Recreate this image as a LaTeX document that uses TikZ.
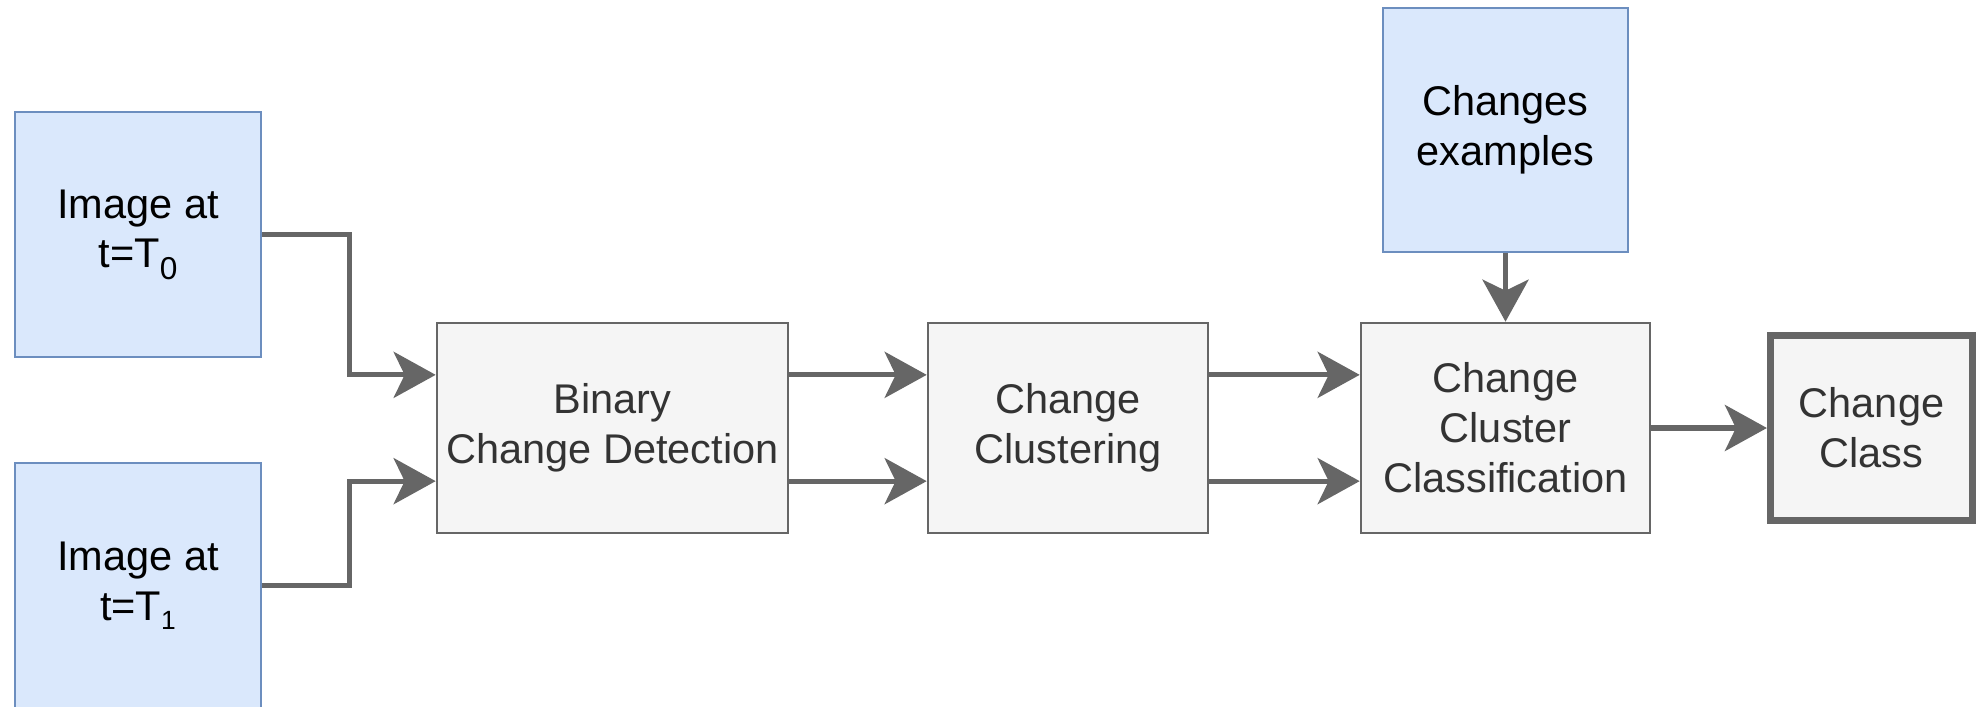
\documentclass[tikz,border=0pt]{standalone}
\usepackage{fontspec}
\setmainfont{Liberation Sans}
\usetikzlibrary{arrows.meta,calc}
\definecolor{bluefill}{HTML}{DAE8FC}
\definecolor{blueline}{HTML}{6C8EBF}
\definecolor{grayfill}{HTML}{F5F5F5}
\definecolor{grayline}{HTML}{666666}
\definecolor{graytext}{HTML}{333333}
\newcommand{\idx}[3]{\raisebox{-#3pt}{\fontsize{#2}{#2}\selectfont #1}}
\begin{document}
\begin{tikzpicture}[x=0.01cm,y=-0.01cm,
  box/.style={draw, rectangle, inner sep=0pt, align=center,
    font=\fontsize{11.8}{14.2}\selectfont, line width=0.7pt},
  inbox/.style={box, fill=bluefill, draw=blueline, text=black},
  stagebox/.style={box, fill=grayfill, draw=grayline, text=graytext},
  outbox/.style={stagebox, line width=2pt},
  arr/.style={draw=grayline, line width=1.5pt,
    -{Stealth[length=0.42cm,width=0.46cm,inset=0.11cm]}}]
\useasboundingbox (0,0) rectangle (1979,706);

% inputs
\node[inbox, minimum width=2.46cm, minimum height=2.45cm] (t0) at (138,234.5)
  {Image at\\t=T\idx{0}{9}{3.2}};
\node[inbox, minimum width=2.46cm, minimum height=2.45cm] (t1) at (138,585.5)
  {Image at\\t=T\idx{1}{7.5}{2.7}};
\node[inbox, minimum width=2.45cm, minimum height=2.44cm] (ex) at (1505.5,130)
  {Changes\\examples};

% processing stages
\node[stagebox, minimum width=3.51cm, minimum height=2.10cm] (bcd) at (612.5,428)
  {Binary\\Change Detection};
\node[stagebox, minimum width=2.80cm, minimum height=2.10cm] (clu) at (1068,428)
  {Change\\Clustering};
\node[stagebox, minimum width=2.89cm, minimum height=2.10cm] (ccc) at (1505.5,428)
  {Change\\Cluster\\Classification};
\node[outbox, minimum width=2.02cm, minimum height=1.84cm] (cls) at (1871.5,428)
  {Change\\Class};

% connection points on the left and right sides of the stages
\coordinate (bcdin1) at ($(bcd.north west)!0.25!(bcd.south west)$);
\coordinate (bcdin2) at ($(bcd.north west)!0.75!(bcd.south west)$);
\coordinate (bcdout1) at ($(bcd.north east)!0.25!(bcd.south east)$);
\coordinate (bcdout2) at ($(bcd.north east)!0.75!(bcd.south east)$);
\coordinate (cluin1) at ($(clu.north west)!0.25!(clu.south west)$);
\coordinate (cluin2) at ($(clu.north west)!0.75!(clu.south west)$);
\coordinate (cluout1) at ($(clu.north east)!0.25!(clu.south east)$);
\coordinate (cluout2) at ($(clu.north east)!0.75!(clu.south east)$);
\coordinate (cccin1) at ($(ccc.north west)!0.25!(ccc.south west)$);
\coordinate (cccin2) at ($(ccc.north west)!0.75!(ccc.south west)$);

% connectors
\draw[arr] (t0.east) -- ++(87,0) |- (bcdin1);
\draw[arr] (t1.east) -- ++(87,0) |- (bcdin2);
\draw[arr] (bcdout1) -- (cluin1);
\draw[arr] (bcdout2) -- (cluin2);
\draw[arr] (cluout1) -- (cccin1);
\draw[arr] (cluout2) -- (cccin2);
\draw[arr] (ex.south) -- (ccc.north);
\draw[arr] (ccc.east) -- (cls.west);
\end{tikzpicture}
\end{document}
